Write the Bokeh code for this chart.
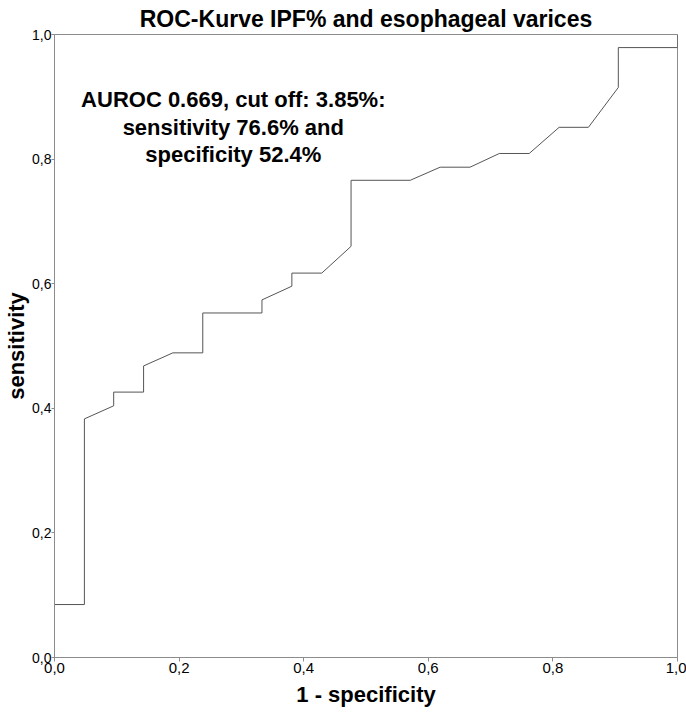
from bokeh.plotting import figure
from bokeh.models import FixedTicker, CustomJSTickFormatter, Label, Range1d
from bokeh.embed import file_html
from bokeh.resources import INLINE

# ROC curve points (1 - specificity, sensitivity)
fpr = [0.0, 0.0, 0.048, 0.048, 0.095, 0.095, 0.143, 0.143, 0.190, 0.238, 0.238,
       0.333, 0.333, 0.381, 0.381, 0.429, 0.476, 0.476, 0.571, 0.619, 0.667,
       0.714, 0.762, 0.810, 0.857, 0.905, 0.905, 1.0, 1.0]
tpr = [0.0, 0.085, 0.085, 0.383, 0.404, 0.426, 0.426, 0.468, 0.489, 0.489, 0.553,
       0.553, 0.574, 0.596, 0.617, 0.617, 0.660, 0.766, 0.766, 0.787, 0.787,
       0.809, 0.809, 0.851, 0.851, 0.915, 0.979, 0.979, 1.0]
ticks = [0.0, 0.2, 0.4, 0.6, 0.8, 1.0]

title_text = "ROC-Kurve IPF% and esophageal varices"
note_text = "AUROC 0.669, cut off: 3.85%:\nsensitivity 76.6% and\nspecificity 52.4%"
FONT = "Liberation Sans"

p = figure(width=686, height=713, output_backend="svg", toolbar_location=None,
           x_range=Range1d(0, 1), y_range=Range1d(0, 1),
           min_border_left=54, min_border_right=9, min_border_top=34, min_border_bottom=56,
           title=title_text)

p.title.align = "center"
p.title.text_font = FONT
p.title.text_font_size = "23px"
p.title.text_font_style = "bold"
p.title.text_color = "black"
p.title.standoff = 6

p.line(fpr, tpr, line_color="#555555", line_width=1)

p.xgrid.visible = False
p.ygrid.visible = False
p.outline_line_color = "#8c8c8c"
p.outline_line_width = 1
p.background_fill_color = "white"
p.border_fill_color = "white"

fmt = CustomJSTickFormatter(code="return tick.toFixed(1).replace('.', ',');")
for ax in (p.xaxis[0], p.yaxis[0]):
    ax.ticker = FixedTicker(ticks=ticks)
    ax.formatter = fmt
    ax.minor_tick_line_color = None
    ax.major_tick_in = 0
    ax.major_tick_out = 4
    ax.major_tick_line_color = "#8c8c8c"
    ax.axis_line_color = "#8c8c8c"
    ax.major_label_text_font = FONT
    ax.major_label_text_font_size = "15px"
    ax.major_label_text_color = "black"
    ax.axis_label_text_font = FONT
    ax.axis_label_text_font_size = "22px"
    ax.axis_label_text_font_style = "bold"
    ax.axis_label_text_color = "black"

p.xaxis.axis_label = "1 - specificity"
p.yaxis.axis_label = "sensitivity"
p.xaxis.major_label_standoff = 1
p.xaxis.axis_label_standoff = 6
p.yaxis.major_label_standoff = 0
p.yaxis.axis_label_standoff = 0
p.yaxis.major_tick_out = 3
p.yaxis.major_label_text_font_size = "14px"

note = Label(x=0.287, y=0.915, text=note_text, text_align="center", text_baseline="top",
             text_font=FONT, text_font_size="22px", text_font_style="bold",
             text_color="black", text_line_height=1.1)
p.add_layout(note)

open("out.html", "w").write(file_html(p, INLINE))
